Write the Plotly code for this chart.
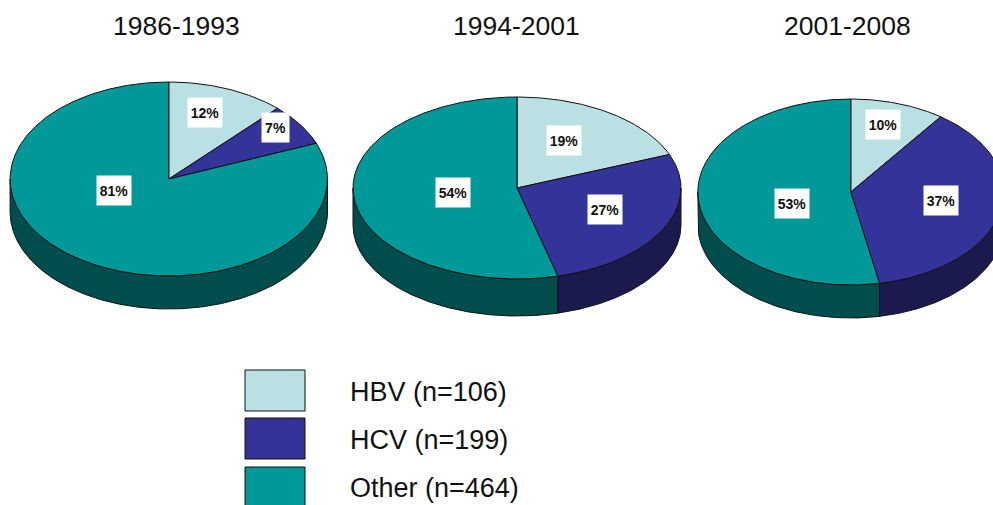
import numpy as np
import plotly.graph_objects as go

# --- data ---
periods = ["1986-1993", "1994-2001", "2001-2008"]
hbv_pct = [12, 19, 10]
hcv_pct = [7, 27, 37]
other_pct = [81, 54, 53]
series_names = ["HBV (n=106)", "HCV (n=199)", "Other (n=464)"]

# --- styles ---
top_colors = ["#B9E0E3", "#333399", "#009999"]
side_colors = ["#5C7072", "#1A1A4D", "#004D4D"]
FONT = "Liberation Sans, Arial, sans-serif"
OUTLINE = dict(color="#111111", width=1)

# --- layout (pixels) ---
pies = [
    dict(cx=168.8, cy=179.0, rx=158.7, ry=97.0, depth=33.0, title_x=176),
    dict(cx=517.0, cy=188.0, rx=164.0, ry=91.0, depth=37.0, title_x=516),
    dict(cx=850.8, cy=192.0, rx=153.0, ry=93.0, depth=33.0, title_x=847.5),
]
label_xy = [
    [(205, 112.5), (275, 127.5), (114, 190.5)],
    [(564, 140.5), (605, 209.5), (452.5, 192.5)],
    [(882.5, 124.5), (941, 200.5), (791.5, 203.5)],
]
swatches = [(245, 305, 370, 411), (245, 305, 418, 459), (245, 305, 467, 520)]
legend_text_y = [392, 440, 488]


def arc(p, a0, a1, dy=0.0):
    """Clockwise from 12 o'clock, angles in degrees."""
    n = max(2, int(abs(a1 - a0) * 2) + 1)
    t = np.radians(np.linspace(a0, a1, n))
    return p["cx"] + p["rx"] * np.sin(t), p["cy"] - p["ry"] * np.cos(t) + dy


fig = go.Figure()


def add_poly(x, y, color):
    fig.add_trace(go.Scatter(
        x=list(x), y=list(y), mode="lines", fill="toself", fillcolor=color,
        line=OUTLINE, hoverinfo="skip", showlegend=False,
    ))


for i, p in enumerate(pies):
    vals = [hbv_pct[i], hcv_pct[i], other_pct[i]]
    edges = np.concatenate([[0], np.cumsum(vals)]) / sum(vals) * 360.0

    # side wall: only the front half (90..270 deg) is visible
    for k in range(3):
        a0, a1 = max(edges[k], 90.0), min(edges[k + 1], 270.0)
        if a1 <= a0:
            continue
        xt, yt = arc(p, a0, a1)
        xb, yb = arc(p, a0, a1, p["depth"])
        add_poly(np.r_[xt, xb[::-1], xt[0]], np.r_[yt, yb[::-1], yt[0]], side_colors[k])

    # top face
    for k in range(3):
        xt, yt = arc(p, edges[k], edges[k + 1])
        add_poly(np.r_[p["cx"], xt, p["cx"]], np.r_[p["cy"], yt, p["cy"]], top_colors[k])

    for k in range(3):
        fig.add_annotation(
            x=label_xy[i][k][0], y=label_xy[i][k][1], text=f"{vals[k]}%",
            showarrow=False, xanchor="center", yanchor="middle",
            bgcolor="white", width=32 if vals[k] >= 10 else 25, height=27,
            font=dict(family=FONT, size=14, color="#111111", weight="bold"),
        )
    fig.add_annotation(
        x=p["title_x"], y=26, text=periods[i], showarrow=False,
        xanchor="center", yanchor="middle",
        font=dict(family=FONT, size=26.5, color="#111111"),
    )

for k, (x0, x1, y0, y1) in enumerate(swatches):
    add_poly([x0, x1, x1, x0, x0], [y0, y0, y1, y1, y0], top_colors[k])
    fig.add_annotation(
        x=348, y=legend_text_y[k], text=series_names[k], showarrow=False,
        xanchor="left", yanchor="middle",
        font=dict(family=FONT, size=27, color="#111111"),
    )

fig.update_layout(
    width=993, height=505, margin=dict(l=0, r=0, t=0, b=0),
    paper_bgcolor="white", plot_bgcolor="white", showlegend=False,
    xaxis=dict(range=[0, 993], visible=False, fixedrange=True),
    yaxis=dict(range=[505, 0], visible=False, fixedrange=True),
)
fig.write_html(
    "out.html",
    config={"displayModeBar": False},
    post_script="document.body.style.margin='0';document.documentElement.style.overflow='hidden';",
)
